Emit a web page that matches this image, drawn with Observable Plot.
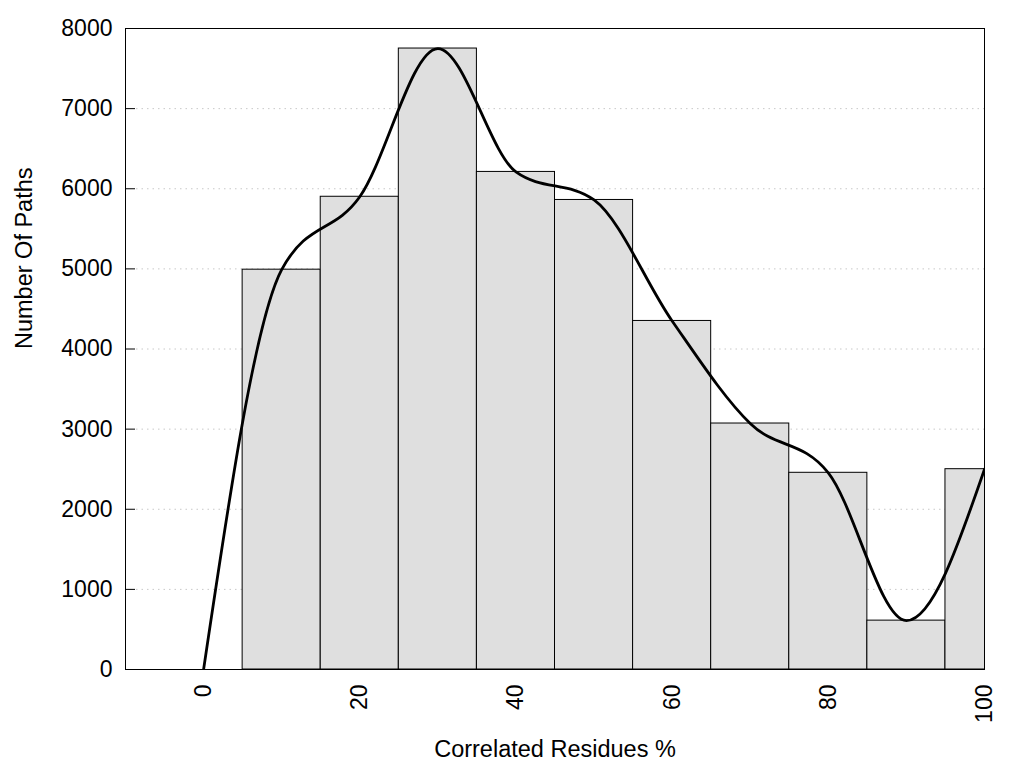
<!DOCTYPE html>
<html>
<head>
<meta charset="utf-8">
<script src="https://cdn.jsdelivr.net/npm/d3@7"></script>
<script src="https://cdn.jsdelivr.net/npm/@observablehq/plot@0.6"></script>
<style>
  html, body { margin: 0; padding: 0; background: #fff; }
  #chart { width: 1024px; height: 768px; }
</style>
</head>
<body>
<div id="chart"></div>
<script>
const binCenters = [10, 20, 30, 40, 50, 60, 70, 80, 90, 100];
const binCounts = [4990, 5900, 7750, 6210, 5860, 4350, 3070, 2455, 610, 2500];
const binWidth = 10;
const curveX = [0, 10, 20, 30, 40, 50, 60, 70, 80, 90, 100];
const curveY = [0, 4990, 5900, 7750, 6210, 5860, 4350, 3070, 2455, 610, 2500];
const xTicks = [0, 20, 40, 60, 80, 100];
const yTicks = [0, 1000, 2000, 3000, 4000, 5000, 6000, 7000, 8000];
const gridTicks = [1000, 2000, 3000, 4000, 5000, 6000, 7000];
const xLabel = "Correlated Residues %";
const yLabel = "Number Of Paths";

const bins = binCenters.map((c, i) => ({x1: c - binWidth / 2, x2: c + binWidth / 2, y: binCounts[i]}));
const curve = curveX.map((x, i) => ({x, y: curveY[i]}));

const chart = Plot.plot({
  width: 1024,
  height: 768,
  marginLeft: 125,
  marginRight: 40,
  marginTop: 28,
  marginBottom: 99,
  style: {fontFamily: "'Liberation Sans', Arial, sans-serif", fontSize: "23px", color: "#000", background: "#fff"},
  x: {domain: [-10, 100]},
  y: {domain: [0, 8000]},
  marks: [
    Plot.tickY(gridTicks, {y: d => d, stroke: "#c8c8c8", strokeDasharray: "1.5,4", insetLeft: 11}),
    Plot.rectY(bins, {x1: "x1", x2: "x2", y: "y", fill: "#dfdfdf", stroke: "#000", strokeWidth: 1, clip: true}),
    Plot.tickY(yTicks.slice(1, -1), {y: d => d, stroke: "#000", insetRight: 849}),
    Plot.line(curve, {x: "x", y: "y", curve: "monotone-x", stroke: "#000", strokeWidth: 2.8, clip: true}),
    Plot.frame({stroke: "#000", strokeWidth: 1}),
    Plot.axisY(yTicks, {tickSize: 0, tickPadding: 13, label: null, fontSize: 23, tickFormat: d => String(d)}),
    Plot.axisX(xTicks, {tickSize: 0, tickPadding: 15, tickRotate: -90, label: null, fontSize: 23, tickFormat: d => String(d)}),
    Plot.text([xLabel], {frameAnchor: "bottom", dy: 87, text: d => d, fontSize: 23.5}),
    Plot.text([yLabel], {frameAnchor: "left", dx: -101, rotate: -90, text: d => d, fontSize: 23.5})
  ]
});
document.getElementById("chart").appendChild(chart);
</script>
</body>
</html>
